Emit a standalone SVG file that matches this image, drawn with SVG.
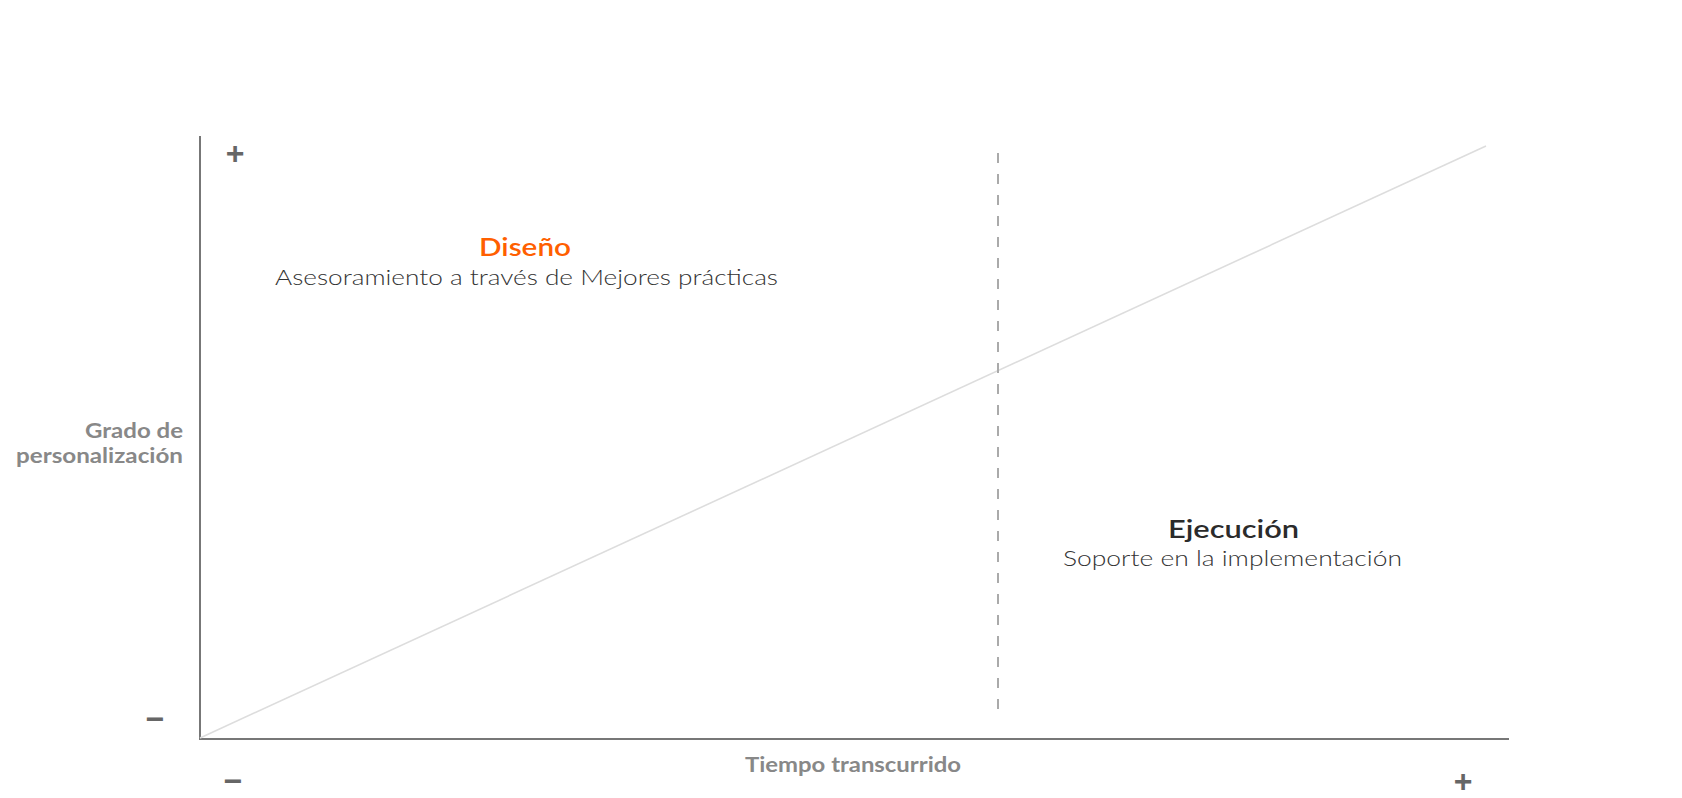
<svg xmlns="http://www.w3.org/2000/svg" width="1682" height="798" viewBox="0 0 1682 798">
<style>
.axis{stroke:#777;stroke-width:2;fill:none}
.diag{stroke:#ddd;stroke-width:1.6;fill:none}
.dash{stroke:#aaa;stroke-width:2;stroke-dasharray:10 11;fill:none}
.t{font-family:Lato,"Open Sans","Liberation Sans",sans-serif}
.title{font-size:25px;font-weight:600}
.sub{font-size:22px;font-weight:300;fill:#333}
.ax{font-size:21px;font-weight:700;fill:#888}
.sign{font-family:"Liberation Sans",sans-serif;font-size:32px;font-weight:700;fill:#666;text-anchor:middle}
</style>
<rect width="1682" height="798" fill="#fff"/>
<g id="connectors">
<line class="axis" x1="200" y1="136" x2="200" y2="740"/>
<line class="axis" x1="199" y1="739" x2="1509" y2="739"/>
<line class="diag" x1="200" y1="738" x2="1486" y2="146"/>
<line class="dash" x1="998" y1="153" x2="998" y2="712"/>
</g>
<g id="signs">
<text class="sign" x="235" y="164">+</text>
<text class="sign" x="1463" y="792">+</text>
<text class="sign" x="155" y="730">−</text>
<text class="sign" x="233" y="792">−</text>
</g>
<g id="y-label">
<text class="t ax" x="85" y="438" textLength="98" lengthAdjust="spacingAndGlyphs">Grado de</text>
<text class="t ax" x="16" y="463" textLength="167" lengthAdjust="spacingAndGlyphs">personalización</text>
</g>
<g id="x-label">
<text class="t ax" x="745" y="772" textLength="216" lengthAdjust="spacingAndGlyphs">Tiempo transcurrido</text>
</g>
<g id="diseno">
<text class="t title" x="479" y="256" fill="#ff5f00" textLength="92" lengthAdjust="spacingAndGlyphs">Diseño</text>
<text class="t sub" x="275" y="285" textLength="503" lengthAdjust="spacingAndGlyphs">Asesoramiento a través de Mejores prácticas</text>
</g>
<g id="ejecucion">
<text class="t title" x="1168" y="538" fill="#2b2b2b" textLength="131" lengthAdjust="spacingAndGlyphs">Ejecución</text>
<text class="t sub" x="1063" y="566" textLength="339" lengthAdjust="spacingAndGlyphs">Soporte en la implementación</text>
</g>
</svg>
